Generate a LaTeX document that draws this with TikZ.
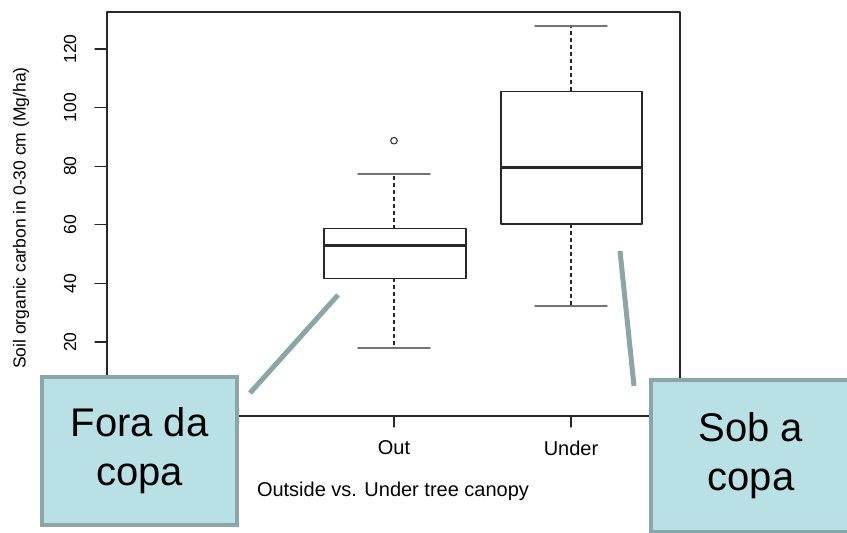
\documentclass[tikz,border=0pt]{standalone}
\usepackage{fontspec}
\setmainfont{Liberation Sans}
\definecolor{calloutfill}{RGB}{185,224,228}
\definecolor{calloutedge}{RGB}{138,166,166}
\definecolor{plotline}{RGB}{40,40,40}

\begin{document}
\begin{tikzpicture}[line cap=round,line join=round,x=1pt,y=-1pt,
  declare function={yv(\v)=342-(\v-20)*2.93;},
  frame/.style={plotline,line width=1.1pt},
  boxline/.style={plotline,line width=1.2pt},
  medianline/.style={plotline,line width=3pt,line cap=butt},
  whisk/.style={plotline,line width=1.1pt,dash pattern=on 4pt off 3pt,line cap=butt},
  capline/.style={black!55,line width=1.4pt},
  axtext/.style={font=\fontsize{20}{23}\selectfont},
  ytext/.style={font=\fontsize{17.5}{20}\selectfont,rotate=90},
  callout/.style={draw=calloutedge,fill=calloutfill,line width=4pt,line join=miter,
    align=center,font=\fontsize{40}{49}\selectfont,inner sep=0pt},
  pointer/.style={calloutedge,line width=5pt,line cap=butt}]
\clip (0,0) rectangle (847,533);
\useasboundingbox (0,0) rectangle (847,533);

% plot frame and axes
\draw [frame] (107,12) rectangle (680,416);
\foreach \v in {20,40,...,120} {
  \draw [frame] (95,{yv(\v)}) -- (107,{yv(\v)});
  \node [ytext] (tick\v) at (70,{yv(\v)}) {\v};
}
\node [ytext] (ylabel) at (21,218) {Soil organic carbon in 0-30 cm (Mg/ha)};
\draw [frame] (394,416) -- (394,427);
\draw [frame] (571,416) -- (571,427);
\node [axtext] (outlbl) at (394,448) {Out};
\node [axtext] (underlbl) at (571,448) {Under};
\node [axtext] (xlabel) at (393,491) {Outside vs. Under tree canopy};

% Out
\draw [whisk] (394,{yv(58.7)}) -- (394,{yv(77.3)});
\draw [whisk] (394,{yv(41.8)}) -- (394,{yv(18)});
\draw [capline] (358,{yv(77.3)}) -- (430,{yv(77.3)});
\draw [capline] (358,{yv(18)}) -- (430,{yv(18)});
\draw [boxline] (324,{yv(41.8)}) rectangle (466,{yv(58.7)});
\draw [medianline] (324,{yv(53)}) -- (466,{yv(53)});
\draw [plotline,line width=1pt] (394,{yv(88.7)}) circle [radius=3.3pt];

% Under
\draw [whisk] (571,{yv(105.5)}) -- (571,{yv(127.8)});
\draw [whisk] (571,{yv(60.3)}) -- (571,{yv(32.3)});
\draw [capline] (535,{yv(127.8)}) -- (607,{yv(127.8)});
\draw [capline] (535,{yv(32.3)}) -- (607,{yv(32.3)});
\draw [boxline] (501,{yv(60.3)}) rectangle (642,{yv(105.5)});
\draw [medianline] (501,{yv(79.5)}) -- (642,{yv(79.5)});

% callouts
\coordinate (foraTip) at (338,295);
\coordinate (foraEnd) at (250,393);
\coordinate (sobTip) at (620,251);
\coordinate (sobEnd) at (634,386);
\draw [pointer] (foraEnd) -- (foraTip);
\draw [pointer] (sobEnd) -- (sobTip);
\node [callout,minimum width=195pt,minimum height=148pt] (fora) at (139.5,451) {Fora da\\copa};
\node [callout,minimum width=200pt,minimum height=152pt] (sob) at (751,456) {Sob a\\copa};
\end{tikzpicture}
\end{document}
